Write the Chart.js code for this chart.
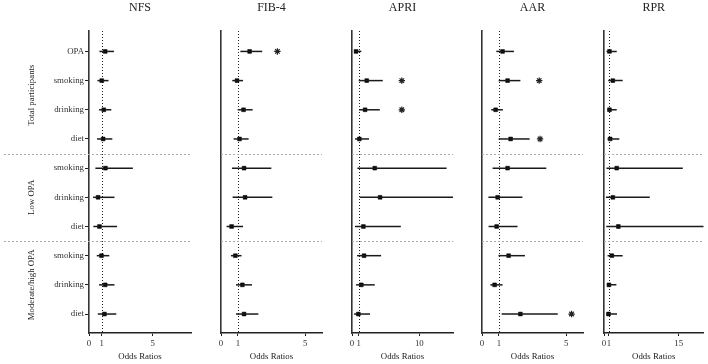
<!DOCTYPE html>
<html>
<head>
<meta charset="utf-8">
<script src="https://cdn.jsdelivr.net/npm/chart.js@4.4.0/dist/chart.umd.min.js"></script>
<style>
  body { margin: 0; background: #fff; }
  #wrap { position: relative; width: 708px; height: 364px; overflow: hidden; }
  canvas { position: absolute; top: 0; }
</style>
</head>
<body>
<div id="wrap">
  <canvas id="c0" width="205" height="364" style="left:0px"></canvas>
  <canvas id="c1" width="123" height="364" style="left:211px"></canvas>
  <canvas id="c2" width="125" height="364" style="left:342px"></canvas>
  <canvas id="c3" width="123" height="364" style="left:472px"></canvas>
  <canvas id="c4" width="114" height="364" style="left:594px"></canvas>
</div>
<script>
// rows, top to bottom
const rowLabels = ['OPA', 'smoking', 'drinking', 'diet', 'smoking', 'drinking', 'diet', 'smoking', 'drinking', 'diet'];
const groupLabels = ['Total participants', 'Low OPA', 'Moderate/high OPA'];
const groupSizes = [4, 3, 3];
const refOR = 1;

// odds ratios, lower and upper limits, asterisk position (null = none)
const nfsOR   = [1.27, 1.00, 1.16, 1.11, 1.29, 0.71, 0.82, 0.98, 1.27, 1.21];
const nfsLow  = [0.82, 0.66, 0.79, 0.63, 0.50, 0.32, 0.34, 0.61, 0.79, 0.69];
const nfsHigh = [1.96, 1.53, 1.75, 1.83, 3.44, 2.00, 2.20, 1.59, 2.00, 2.14];
const nfsStar = [null, null, null, null, null, null, null, null, null, null];

const fibOR   = [1.70, 0.95, 1.34, 1.10, 1.37, 1.43, 0.63, 0.85, 1.27, 1.37];
const fibLow  = [1.15, 0.67, 0.99, 0.75, 0.65, 0.69, 0.33, 0.59, 0.89, 0.89];
const fibHigh = [2.45, 1.31, 1.88, 1.64, 2.99, 3.05, 1.31, 1.22, 1.84, 2.22];
const fibStar = [3.35, null, null, null, null, null, null, null, null, null];

const apriOR   = [0.60, 2.19, 1.94, 1.09, 3.38, 4.17, 1.69, 1.79, 1.39, 0.94];
const apriLow  = [0.40, 1.00, 1.04, 0.45, 0.80, 1.15, 0.45, 0.75, 0.60, 0.30];
const apriHigh = [1.39, 4.57, 4.13, 2.53, 14.05, 16.5, 7.25, 4.32, 3.38, 2.68];
const apriStar = [null, 7.4, 7.4, null, null, 16.0, null, null, null, null];

const aarOR   = [1.22, 1.52, 0.81, 1.70, 1.52, 0.93, 0.87, 1.58, 0.75, 2.28];
const aarLow  = [0.85, 0.99, 0.55, 0.99, 0.63, 0.38, 0.39, 0.98, 0.50, 1.17];
const aarHigh = [1.90, 2.28, 1.24, 2.83, 3.82, 2.40, 2.11, 2.55, 1.22, 4.50];
const aarStar = [null, 3.4, null, 3.45, null, null, null, null, null, 5.32];

const rprOR   = [1.10, 1.78, 1.10, 1.24, 2.56, 1.78, 2.88, 1.58, 0.99, 0.91];
const rprLow  = [0.50, 0.85, 0.71, 0.71, 0.50, 0.39, 0.45, 0.71, 0.58, 0.45];
const rprHigh = [2.56, 3.75, 2.56, 3.08, 15.84, 9.20, 21.0, 3.75, 2.49, 2.62];
const rprStar = [null, null, null, null, null, null, null, null, null, null];

const panelNames = ['NFS', 'FIB-4', 'APRI', 'AAR', 'RPR'];
const axisMax = [8, 6, 15, 6, 20];
const xTickValues = [[0, 1, 5], [0, 1, 5], [0, 1, 10], [0, 1, 5], [0, 1, 15]];

const serif = '"Liberation Serif", "Times New Roman", serif';
Chart.defaults.font.family = serif;
Chart.defaults.color = '#222';

const panels = [
  { id: 'c0', or: nfsOR, lo: nfsLow, hi: nfsHigh, star: nfsStar, yWidth: 89, padRight: 14 },
  { id: 'c1', or: fibOR, lo: fibLow, hi: fibHigh, star: fibStar, yWidth: 10, padRight: 12 },
  { id: 'c2', or: apriOR, lo: apriLow, hi: apriHigh, star: apriStar, yWidth: 10, padRight: 14 },
  { id: 'c3', or: aarOR, lo: aarLow, hi: aarHigh, star: aarStar, yWidth: 10, padRight: 12 },
  { id: 'c4', or: rprOR, lo: rprLow, hi: rprHigh, star: rprStar, yWidth: 10, padRight: 3 }
];

// title, reference line, group separators and group labels
const forestDecor = {
  id: 'forestDecor',
  beforeDatasetsDraw(chart, args, opts) {
    const { ctx, chartArea, scales } = chart;
    const x1 = scales.x.getPixelForValue(refOR);
    ctx.save();
    ctx.strokeStyle = '#222';
    ctx.lineWidth = 1;
    ctx.setLineDash([1, 2]);
    ctx.beginPath();
    ctx.moveTo(Math.round(x1) + 0.5, chartArea.top);
    ctx.lineTo(Math.round(x1) + 0.5, chartArea.bottom);
    ctx.stroke();

    ctx.strokeStyle = '#aaa';
    ctx.setLineDash([2, 2]);
    let acc = 0;
    for (let g = 0; g < groupSizes.length - 1; g++) {
      acc += groupSizes[g];
      const y = Math.round(scales.y.getPixelForValue(acc + 0.5)) + 0.5;
      ctx.beginPath();
      ctx.moveTo(opts.first ? 4 : chartArea.left, y);
      ctx.lineTo(chartArea.right, y);
      ctx.stroke();
    }
    ctx.restore();
  },
  afterDraw(chart, args, opts) {
    const { ctx, chartArea, scales } = chart;
    ctx.save();
    ctx.fillStyle = '#222';
    ctx.textAlign = 'center';
    ctx.textBaseline = 'middle';
    ctx.font = '12px ' + serif;
    ctx.fillText(opts.title, (chartArea.left + chartArea.right) / 2, 8);
    if (opts.first) {
      ctx.font = '8.8px ' + serif;
      let start = 1;
      groupSizes.forEach((n, g) => {
        const mid = start + (n - 1) / 2;
        const y = scales.y.getPixelForValue(mid);
        ctx.save();
        ctx.translate(32, y);
        ctx.rotate(-Math.PI / 2);
        ctx.fillText(groupLabels[g], 0, 0);
        ctx.restore();
        start += n;
      });
    }
    ctx.restore();
  }
};

panels.forEach((p, k) => {
  const datasets = [];
  rowLabels.forEach((lab, i) => {
    datasets.push({
      data: [{ x: p.lo[i], y: i + 1 }, { x: p.hi[i], y: i + 1 }],
      showLine: true,
      borderColor: '#1a1a1a',
      borderWidth: 1.5,
      pointRadius: 0
    });
  });
  datasets.push({
    data: p.or.map((v, i) => ({ x: v, y: i + 1 })),
    pointStyle: 'rect',
    pointRadius: 2.7,
    backgroundColor: '#000',
    borderColor: '#000',
    borderWidth: 0.5
  });
  datasets.push({
    data: p.star.map((v, i) => (v === null ? null : { x: v, y: i + 1 })).filter(d => d),
    pointStyle: 'star',
    pointRadius: 3.2,
    borderColor: '#222',
    borderWidth: 1.2,
    clip: false
  });

  const first = k === 0;
  new Chart(document.getElementById(p.id).getContext('2d'), {
    type: 'scatter',
    data: { datasets: datasets },
    options: {
      responsive: false,
      animation: false,
      events: [],
      layout: { padding: { top: 31, right: p.padRight, bottom: 0, left: 0 } },
      plugins: {
        legend: { display: false },
        tooltip: { enabled: false },
        forestDecor: { title: panelNames[k], first: first }
      },
      scales: {
        x: {
          type: 'linear',
          min: 0,
          max: axisMax[k],
          afterBuildTicks: s => { s.ticks = xTickValues[k].map(v => ({ value: v })); },
          afterFit: s => { s.height = 31; },
          border: { display: true, color: '#222', width: 1.6 },
          grid: { drawOnChartArea: false, drawTicks: true, tickLength: 3, color: '#222' },
          ticks: { padding: 2, font: { size: 8.8 }, color: '#333', maxRotation: 0 },
          title: { display: true, text: 'Odds Ratios', font: { size: 8.8 }, color: '#222', padding: { top: 0, bottom: 2 } }
        },
        y: {
          type: 'linear',
          reverse: true,
          min: 0.3,
          max: 10.65,
          afterBuildTicks: s => { s.ticks = rowLabels.map((l, i) => ({ value: i + 1 })); },
          afterFit: s => { s.width = p.yWidth; },
          border: { display: true, color: '#333', width: 1.6 },
          grid: first
            ? { drawOnChartArea: false, drawTicks: true, tickLength: 4, color: '#222' }
            : { display: false },
          ticks: {
            display: first,
            padding: 1,
            font: { size: 8.8 },
            color: '#333',
            callback: v => rowLabels[v - 1]
          }
        }
      }
    },
    plugins: [forestDecor]
  });
});
</script>
</body>
</html>
